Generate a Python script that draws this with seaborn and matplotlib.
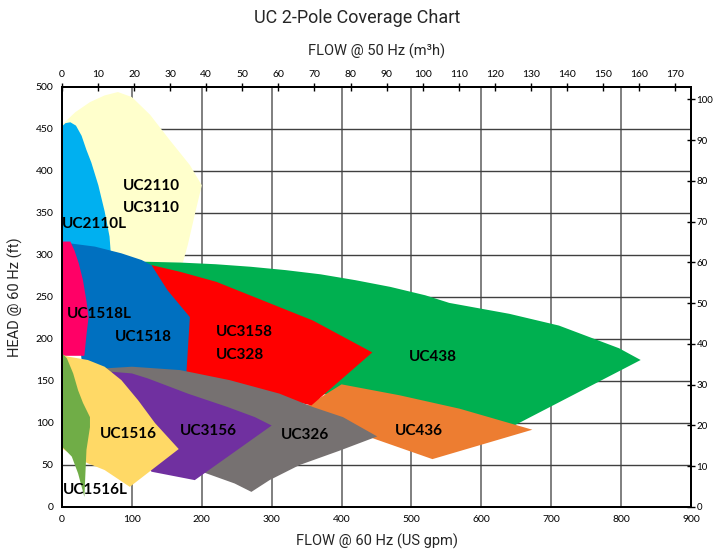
import matplotlib
matplotlib.use("Agg")
import matplotlib.pyplot as plt
import seaborn as sns
import pandas as pd

# ---------------- data (flow in US gpm @60Hz, head in ft @60Hz) ----------------
uc2110_flow = [0, 19, 40, 61, 80, 100, 126, 154, 183, 200, 190, 180, 173, 0]
uc2110_head = [455, 470, 482, 490, 494, 488, 467, 437, 407, 383, 348, 312, 291, 291]

uc2110l_flow = [0, 5, 12, 20, 28, 35, 42, 52, 61, 68, 70, 0]
uc2110l_head = [453, 457, 458, 454, 442, 425, 410, 383, 352, 322, 300, 300]

uc438_flow = [118, 169, 220, 270, 320, 370, 420, 470, 520, 554, 640, 711, 797, 828,
              647, 554, 383, 269, 126]
uc438_head = [292, 291, 289, 286, 282, 277, 270, 262, 252, 243, 230, 216, 189, 175,
              97, 115, 133, 151, 242]

uc436_flow = [350, 400, 483, 569, 673, 530, 451, 400]
uc436_head = [120, 146, 133, 117, 92, 57, 80, 95]

uc3158_flow = [128, 169, 221, 287, 359, 444, 357, 250, 175, 150, 140]
uc3158_head = [288, 280, 268, 246, 222, 184, 121, 140, 155, 200, 260]

uc1518_flow = [10, 47, 85, 114, 128, 151, 183, 178, 30]
uc1518_head = [314, 310, 302, 294, 288, 258, 226, 160, 160]

uc1518l_flow = [0, 12, 18, 24, 30, 35, 38, 35, 32, 0]
uc1518l_head = [316, 316, 305, 290, 270, 245, 226, 205, 180, 180]

uc326_flow = [61, 100, 169, 240, 311, 359, 402, 451, 397, 340, 297, 271, 247, 200, 150, 100]
uc326_head = [165, 167, 163, 151, 135, 119, 107, 84, 67, 50, 32, 18, 28, 42, 60, 100]

uc3156_flow = [71, 100, 123, 180, 237, 276, 300, 190, 128, 90]
uc3156_head = [161, 159, 153, 135, 119, 107, 97, 32, 42, 100]

uc1516_flow = [0, 9, 37, 61, 85, 109, 133, 167, 97, 61, 37, 14, 0]
uc1516_head = [181, 179, 175, 167, 151, 127, 100, 69, 24, 44, 52, 62, 70]

uc1516l_flow = [0, 7, 16, 23, 30, 40, 40, 35, 32, 23, 14, 0]
uc1516l_head = [183, 177, 159, 139, 124, 107, 95, 68, 12, 40, 60, 72]

shape_names = ["UC2110", "UC2110L", "UC438", "UC436", "UC3158", "UC1518", "UC1518L",
               "UC326", "UC3156", "UC1516", "UC1516L"]
shape_colors = ["#FFFFCC", "#00B0F0", "#00B050", "#ED7D31", "#FF0000", "#0070C0",
                "#FF0066", "#767171", "#7030A0", "#FFD966", "#70AD47"]

label_texts = ["UC2110", "UC3110", "UC2110L", "UC1518L", "UC1518", "UC3158", "UC328",
               "UC438", "UC1516", "UC3156", "UC326", "UC436", "UC1516L"]
label_flow = [87, 87, 0, 7, 76, 220, 220, 497, 54, 169, 313, 476, 1]
label_head = [382, 356, 337, 230, 202, 208, 181, 178, 87, 91, 86, 91, 20]

left_ticks = list(range(0, 501, 50))
bottom_ticks = list(range(0, 901, 100))
top_ticks = list(range(0, 171, 10))
right_ticks = list(range(0, 101, 10))

shapes = [
    (uc2110_flow, uc2110_head), (uc2110l_flow, uc2110l_head), (uc438_flow, uc438_head),
    (uc436_flow, uc436_head), (uc3158_flow, uc3158_head), (uc1518_flow, uc1518_head),
    (uc1518l_flow, uc1518l_head), (uc326_flow, uc326_head), (uc3156_flow, uc3156_head),
    (uc1516_flow, uc1516_head), (uc1516l_flow, uc1516l_head),
]

# ---------------- style ----------------
sns.set_theme(style="white")
narrow = ["Roboto", "DejaVu Sans"]
plt.rcParams["font.family"] = ["Lato", "DejaVu Sans"]

fig = plt.figure(figsize=(7.14, 5.52), dpi=100)
ax = fig.add_axes([62 / 714, 1 - 507 / 552, 629 / 714, 420 / 552])

ax.set_xlim(0, 900)
ax.set_ylim(0, 500)

# grid
for x in bottom_ticks[1:-1]:
    ax.axvline(x, color="#7f7f7f", lw=1.4, zorder=0)
for y in left_ticks[1:-1]:
    ax.axhline(y, color="#404040", lw=1.0, zorder=0)

# coverage polygons
for (fl, hd), name, col in zip(shapes, shape_names, shape_colors):
    df = pd.DataFrame({"flow": fl, "head": hd})
    ax.fill(df["flow"], df["head"], color=col, lw=0, zorder=2, label=name)

for t, fx, hy in zip(label_texts, label_flow, label_head):
    ax.text(fx, hy, t, fontsize=11, fontweight="bold", color="black",
            ha="left", va="center", zorder=5)

# axes styling
for s in ax.spines.values():
    s.set_color("black")
    s.set_linewidth(1.3)
ax.set_xticks(bottom_ticks)
ax.set_yticks(left_ticks)
ax.tick_params(axis="x", length=0, labelsize=7.5, pad=6, colors="black")
ax.tick_params(axis="y", length=0, labelsize=7.5, pad=6, colors="black")
ax.set_xlabel("FLOW @ 60 Hz (US gpm)", fontsize=10.5, family=narrow, labelpad=7)
ax.set_ylabel("HEAD @ 60 Hz (ft)", fontsize=10.5, family=narrow, labelpad=9)

axt = ax.twiny()
axt.set_xlim(0, 174.4)
axt.set_xticks(top_ticks)
axt.tick_params(axis="x", direction="inout", length=6, width=1, labelsize=7.5,
                pad=3, colors="black")
axt.set_xlabel("FLOW @ 50 Hz (m\u00b3h)", fontsize=10.5, family=narrow, labelpad=10)

axr = ax.twinx()
axr.set_ylim(0, 103)
axr.set_yticks(right_ticks)
axr.tick_params(axis="y", direction="inout", length=6, width=1, labelsize=7,
                pad=1, colors="black")
for a in (axt, axr):
    for s in a.spines.values():
        s.set_color("black")
        s.set_linewidth(1.3)

fig.text(0.5, 1 - 18 / 552, "UC 2-Pole Coverage Chart", ha="center", va="center",
         fontsize=13, family=narrow)

fig.savefig("out.png", dpi=100)
